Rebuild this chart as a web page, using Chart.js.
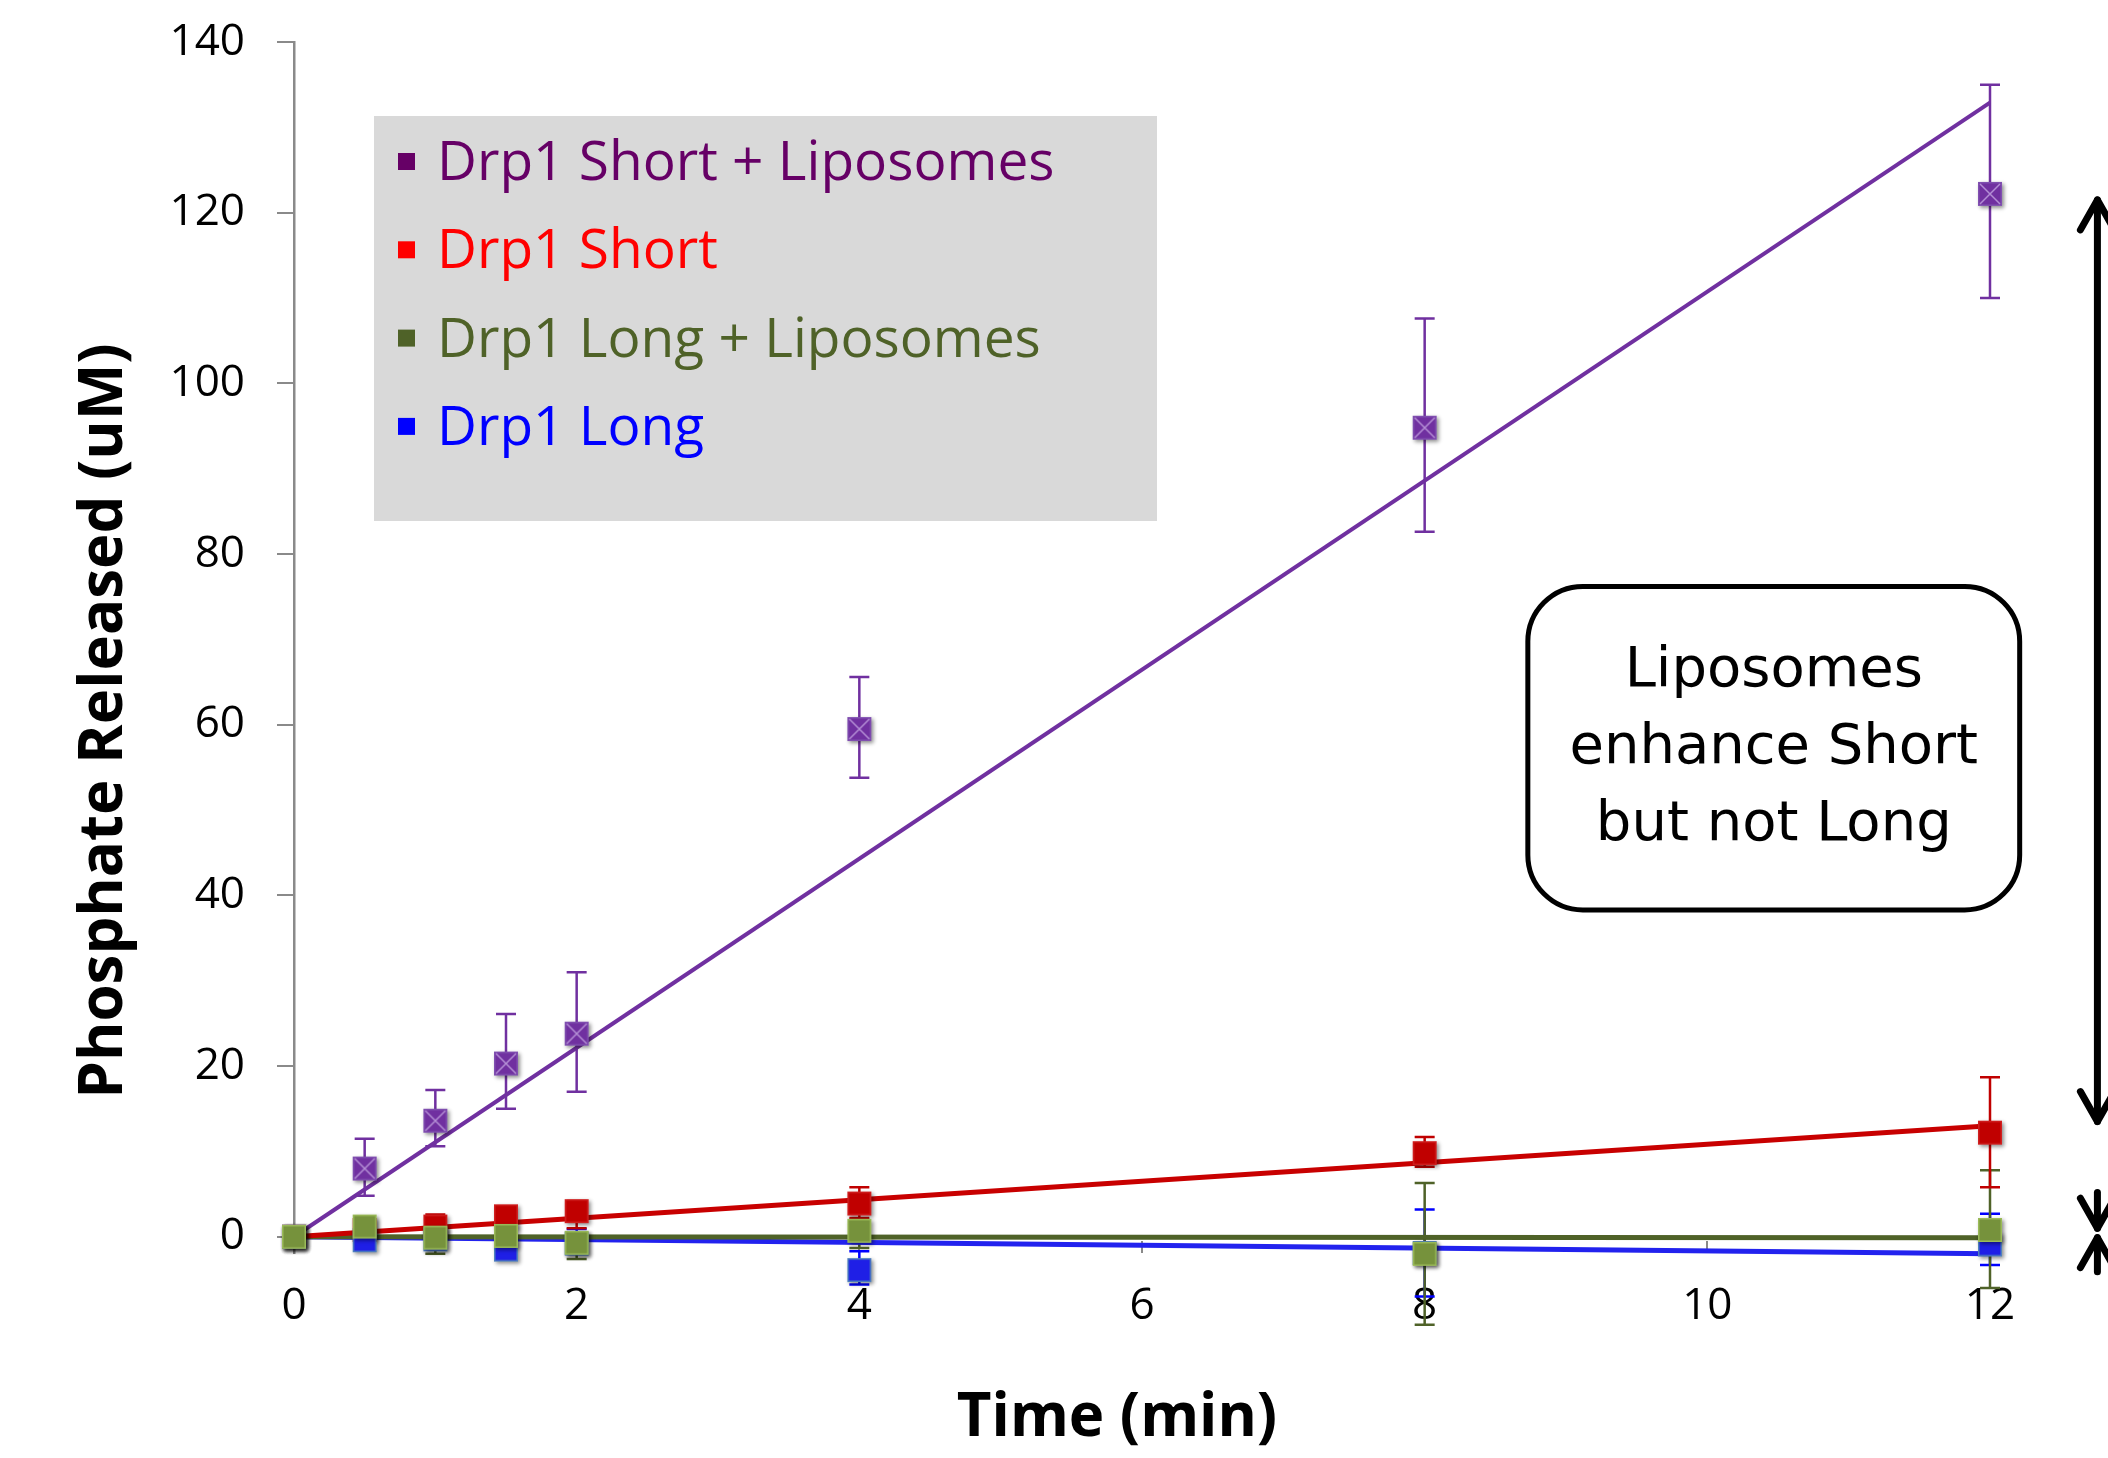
<!DOCTYPE html>
<html lang="en">
<head>
  <meta charset="UTF-8">
  <title>Phosphate Released</title>
  <script src="https://cdn.jsdelivr.net/npm/chart.js@4.4.1/dist/chart.umd.min.js"></script>
  <style>
    html, body { margin: 0; padding: 0; background: #fff; }
    #wrap { width: 2108px; height: 1458px; position: relative; }
  </style>
</head>
<body>
  <div id="wrap"><canvas id="chart"></canvas></div>
  <script>
    // time points (min)
    const timeMin = [0, 0.5, 1, 1.5, 2, 4, 8, 12]
    const xTicks = [0, 2, 4, 6, 8, 10, 12]
    const yTicks = [0, 20, 40, 60, 80, 100, 120, 140]

    const seriesNames = ['Drp1 Short + Liposomes', 'Drp1 Short', 'Drp1 Long + Liposomes', 'Drp1 Long']

    // mean values and error bar ends
    const shortLipo   = [0, 8.0, 13.6, 20.3, 23.8, 59.5, 94.8, 122.2]
    const shortLipoHi = [0, 11.5, 17.2, 26.1, 31.0, 65.6, 107.6, 135.0]
    const shortLipoLo = [0, 4.8, 10.6, 15.0, 17.0, 53.8, 82.6, 110.0]

    const shortOnly   = [0, 0.8, 1.2, 2.4, 3.0, 3.9, 9.8, 12.2]
    const shortOnlyHi = [0, 1.5, 2.6, 3.2, 4.2, 5.8, 11.7, 18.7]
    const shortOnlyLo = [0, 0.1, -0.2, 1.6, 1.0, 2.2, 8.2, 5.8]

    const longLipo   = [0, 1.2, -0.1, 0.1, -0.7, 0.7, -2.0, 0.8]
    const longLipoHi = [0, 2.0, 0.8, 1.0, 0.5, 2.0, 6.3, 7.8]
    const longLipoLo = [0, 0.4, -2.0, -0.8, -2.6, -1.3, -10.3, -6.0]

    const longOnly   = [0, -0.4, -0.3, -1.5, -0.8, -3.9, -1.9, -0.9]
    const longOnlyHi = [0, 0.2, 0.4, -0.8, 0.9, -1.7, 3.2, 2.7]
    const longOnlyLo = [0, -1.0, -1.0, -2.1, -2.0, -5.6, -7.0, -3.3]

    // linear trend lines
    const trendX = [0, 12]
    const shortLipoTrend = [0, 132.9]
    const shortOnlyTrend = [0, 13.0]
    const longLipoTrend = [0, -0.1]
    const longOnlyTrend = [0, -2.0]

    // bracket arrows on the right: [from, to] in uM
    const arrowX = 12.76
    const bigArrow = [121.5, 13.5]
    const smallDown = [5.2, 1.0]
    const smallUp = [-4.1, -0.1]

    const noteLines = ['Liposomes', 'enhance Short', 'but not Long']

    const series = [
      { name: seriesNames[0], mean: shortLipo, hi: shortLipoHi, lo: shortLipoLo, trend: shortLipoTrend,
        fill: '#7030A0', edge: '#8050B0', cross: '#B590D6', line: '#7030A0', err: '#7030A0', text: '#660066', key: '#660066', order: 4 },
      { name: seriesNames[1], mean: shortOnly, hi: shortOnlyHi, lo: shortOnlyLo, trend: shortOnlyTrend,
        fill: '#C00000', edge: '#D02020', line: '#C80000', err: '#C00000', text: '#FF0000', key: '#FF0000', order: 3 },
      { name: seriesNames[2], mean: longLipo, hi: longLipoHi, lo: longLipoLo, trend: longLipoTrend,
        fill: '#76923C', edge: '#9BBB59', line: '#4F6228', err: '#4F6228', text: '#4F6228', key: '#4F6228', order: 1 },
      { name: seriesNames[3], mean: longOnly, hi: longOnlyHi, lo: longOnlyLo, trend: longOnlyTrend,
        fill: '#1F1FE6', edge: '#4F81BD', line: '#2222EE', err: '#0000FF', text: '#0000FF', key: '#0000FF', order: 2 }
    ]

    function makeMarker(s) {
      const c = document.createElement('canvas')
      c.width = 38
      c.height = 38
      const g = c.getContext('2d')
      g.shadowColor = 'rgba(0,0,0,0.45)'
      g.shadowBlur = 4
      g.shadowOffsetX = 2
      g.shadowOffsetY = 2
      g.fillStyle = s.fill
      g.fillRect(7, 7, 24, 24)
      g.shadowColor = 'transparent'
      g.strokeStyle = s.edge
      g.lineWidth = 1.5
      g.strokeRect(7.75, 7.75, 22.5, 22.5)
      if (s.cross) {
        g.strokeStyle = s.cross
        g.lineWidth = 1.5
        g.beginPath()
        g.moveTo(9, 9); g.lineTo(29, 29)
        g.moveTo(29, 9); g.lineTo(9, 29)
        g.stroke()
      }
      return c
    }

    const datasets = []
    series.forEach((s, i) => {
      datasets.push({
        label: s.name,
        data: timeMin.map((t, j) => ({ x: t, y: s.mean[j] })),
        pointStyle: makeMarker(s),
        pointRadius: 30,
        pointHoverRadius: 30,
        showLine: false,
        clip: false,
        order: s.order
      })
      datasets.push({
        label: s.name + ' trend',
        data: trendX.map((t, j) => ({ x: t, y: s.trend[j] })),
        showLine: true,
        borderColor: s.line,
        borderWidth: i === 0 ? 4 : 5,
        pointRadius: 0,
        pointHoverRadius: 0,
        clip: false,
        order: 5 + i
      })
    })

    const errorBars = {
      id: 'errorBars',
      beforeDatasetsDraw(chart) {
        const { ctx, scales: { x, y } } = chart
        ctx.save()
        ctx.lineWidth = 2.5
        for (const s of [...series].reverse()) {
          ctx.strokeStyle = s.err
          timeMin.forEach((t, i) => {
            if (s.hi[i] === s.lo[i]) return
            const px = x.getPixelForValue(t)
            const y1 = y.getPixelForValue(s.hi[i])
            const y2 = y.getPixelForValue(s.lo[i])
            ctx.beginPath()
            ctx.moveTo(px, y1); ctx.lineTo(px, y2)
            ctx.moveTo(px - 10, y1); ctx.lineTo(px + 10, y1)
            ctx.moveTo(px - 10, y2); ctx.lineTo(px + 10, y2)
            ctx.stroke()
          })
        }
        ctx.restore()
      }
    }

    function arrowHead(ctx, px, py, dir) {
      // dir 1 = pointing down, -1 = pointing up
      ctx.beginPath()
      ctx.moveTo(px - 17, py - dir * 30)
      ctx.lineTo(px, py)
      ctx.lineTo(px + 17, py - dir * 30)
      ctx.stroke()
    }

    function roundRect(ctx, x0, y0, x1, y1, r) {
      ctx.beginPath()
      ctx.moveTo(x0 + r, y0)
      ctx.arcTo(x1, y0, x1, y1, r)
      ctx.arcTo(x1, y1, x0, y1, r)
      ctx.arcTo(x0, y1, x0, y0, r)
      ctx.arcTo(x0, y0, x1, y0, r)
      ctx.closePath()
    }

    const extras = {
      id: 'extras',
      afterDraw(chart) {
        const { ctx, chartArea: ca, scales: { x, y } } = chart
        ctx.save()

        // legend box
        const bx = ca.left + 80, by = ca.top + 74
        ctx.fillStyle = '#D9D9D9'
        ctx.fillRect(bx, by, 783, 405)
        ctx.font = '55px "Open Sans"'
        ctx.textBaseline = 'alphabetic'
        ctx.textAlign = 'left'
        series.forEach((s, i) => {
          const base = by + 64 + i * 88.3
          ctx.fillStyle = s.key
          ctx.fillRect(bx + 24, base - 27, 17, 17)
          ctx.fillStyle = s.text
          ctx.fillText(s.name, bx + 63, base)
        })

        // note box
        const nx0 = x.getPixelForValue(8.73), nx1 = x.getPixelForValue(12.21)
        const ny0 = y.getPixelForValue(76.2), ny1 = y.getPixelForValue(38.3)
        roundRect(ctx, nx0, ny0, nx1, ny1, 55)
        ctx.fillStyle = '#fff'
        ctx.fill()
        ctx.lineWidth = 5
        ctx.strokeStyle = '#000'
        ctx.stroke()
        ctx.fillStyle = '#000'
        ctx.font = '56px "DejaVu Sans"'
        ctx.textAlign = 'center'
        const cx = (nx0 + nx1) / 2
        noteLines.forEach((l, i) => ctx.fillText(l, cx, ny0 + 100 + i * 77))

        // bracket arrows
        ctx.lineWidth = 7
        ctx.lineCap = 'round'
        ctx.lineJoin = 'round'
        const ax = x.getPixelForValue(arrowX)
        const a0 = y.getPixelForValue(bigArrow[0]), a1 = y.getPixelForValue(bigArrow[1])
        ctx.beginPath(); ctx.moveTo(ax, a0); ctx.lineTo(ax, a1); ctx.stroke()
        arrowHead(ctx, ax, a0, -1)
        arrowHead(ctx, ax, a1, 1)
        const d0 = y.getPixelForValue(smallDown[0]), d1 = y.getPixelForValue(smallDown[1])
        ctx.beginPath(); ctx.moveTo(ax, d0); ctx.lineTo(ax, d1); ctx.stroke()
        arrowHead(ctx, ax, d1, 1)
        const u0 = y.getPixelForValue(smallUp[0]), u1 = y.getPixelForValue(smallUp[1])
        ctx.beginPath(); ctx.moveTo(ax, u0); ctx.lineTo(ax, u1); ctx.stroke()
        arrowHead(ctx, ax, u1, -1)

        // axis titles
        ctx.fillStyle = '#000'
        ctx.font = 'bold 60px "Open Sans"'
        ctx.textAlign = 'center'
        ctx.fillText('Time (min)', ca.left + 823, ca.bottom + 183)
        ctx.translate(ca.left - 189, ca.top + 679)
        ctx.rotate(-Math.PI / 2)
        ctx.textBaseline = 'middle'
        ctx.fillText('Phosphate Released (uM)', 0, 0)
        ctx.restore()
      }
    }

    const axisGrey = '#8A8A8A'

    new Chart(document.getElementById('chart'), {
      type: 'scatter',
      data: { datasets },
      options: {
        responsive: true,
        maintainAspectRatio: false,
        animation: false,
        layout: { padding: { top: 42, right: 118, bottom: 0, left: 0 } },
        plugins: { legend: { display: false }, tooltip: { enabled: false } },
        scales: {
          x: {
            type: 'linear',
            min: 0,
            max: 12,
            afterFit: s => { s.height = 205; s.paddingLeft = 0; s.paddingRight = 0 },
            afterBuildTicks: s => { s.ticks = xTicks.map(v => ({ value: v })) },
            border: { display: false },
            grid: { drawOnChartArea: false, drawTicks: true, tickLength: -12, tickColor: axisGrey, lineWidth: 2 },
            ticks: { color: '#000', padding: 39, maxRotation: 0, font: { family: 'Open Sans', size: 44 } }
          },
          y: {
            type: 'linear',
            min: -1.9,
            max: 140,
            afterFit: s => { s.width = 294; s.paddingTop = 0; s.paddingBottom = 0 },
            afterBuildTicks: s => { s.ticks = yTicks.map(v => ({ value: v })) },
            border: { display: true, color: axisGrey, width: 2.5 },
            grid: {
              drawTicks: true,
              tickLength: 17,
              tickColor: axisGrey,
              lineWidth: 2,
              color: ctx => (ctx.tick && ctx.tick.value === 0 ? axisGrey : 'rgba(0,0,0,0)')
            },
            ticks: { color: '#000', padding: 32, font: { family: 'Open Sans', size: 44 } }
          }
        }
      },
      plugins: [errorBars, extras]
    })
  </script>
</body>
</html>
